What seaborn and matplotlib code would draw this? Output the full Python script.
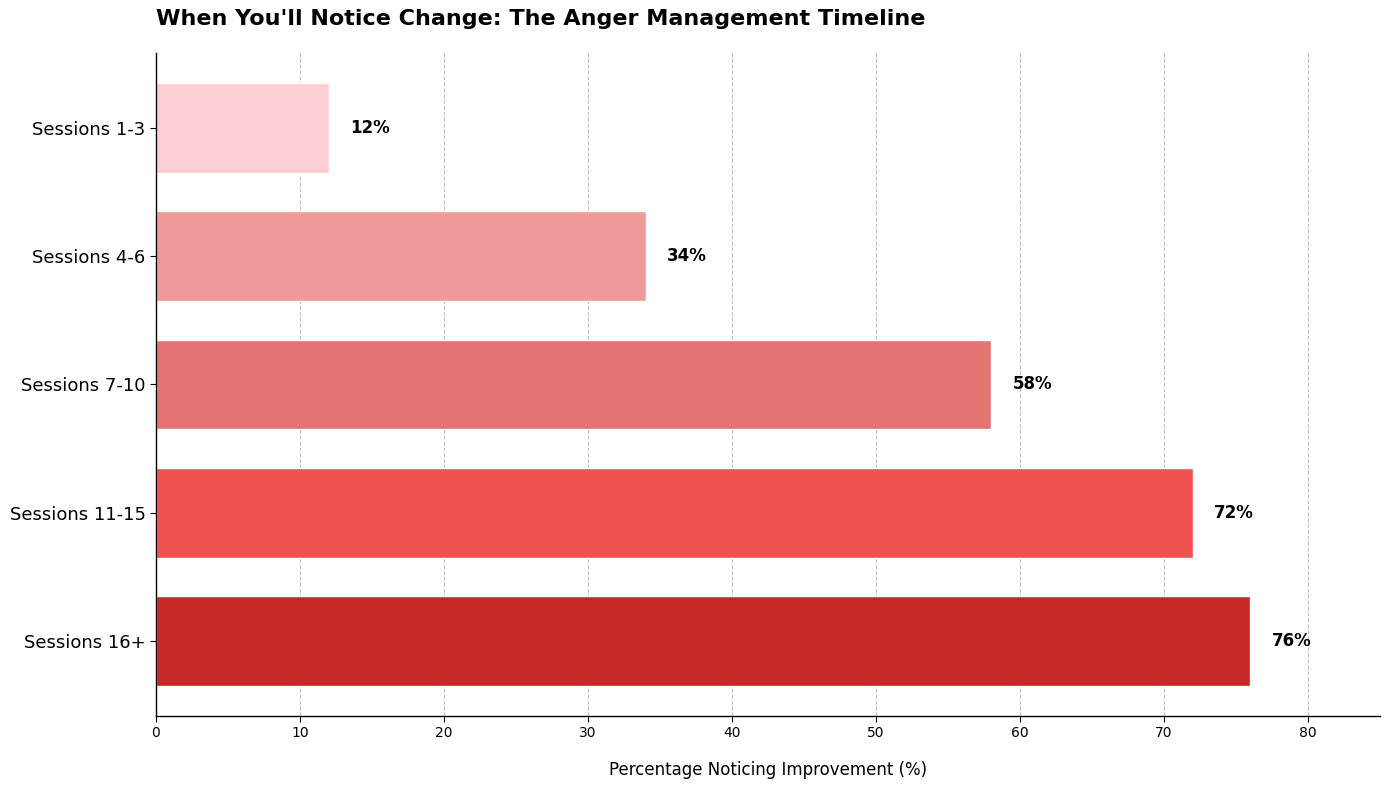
import matplotlib
matplotlib.use("Agg")
import matplotlib.pyplot as plt
import seaborn as sns
import pandas as pd

# Chart data
sessions = ["Sessions 1-3", "Sessions 4-6", "Sessions 7-10", "Sessions 11-15", "Sessions 16+"]
improvement = [12, 34, 58, 72, 76]
bar_colors = ["#FFCDD2", "#EF9A9A", "#E57373", "#EF5350", "#C62828"]

sns.set_style("white")
plt.rcParams.update({
    "font.family": ["DejaVu Sans"],
    "text.color": "black",
    "axes.labelcolor": "black",
    "xtick.color": "black",
    "ytick.color": "black",
})

df = pd.DataFrame({"Session": sessions, "Improvement": improvement})

fig, ax = plt.subplots(figsize=(13.89, 7.89), dpi=100)
fig.subplots_adjust(left=0.1123, right=0.9935, top=0.933, bottom=0.0925)

sns.barplot(
    data=df, x="Improvement", y="Session", hue="Session",
    palette=dict(zip(sessions, bar_colors)), legend=False,
    width=0.7, saturation=1, ax=ax, zorder=2
)

# Value labels to the right of each bar
for i, v in enumerate(improvement):
    ax.text(v + 1.5, i, f"{v}%", va="center", ha="left", fontsize=12,
            fontweight="bold", color="black")

ax.set_xlim(0, 85)
ax.set_ylim(len(sessions) - 1 + 0.585, -0.585)
ax.set_xticks(range(0, 90, 10))
ax.grid(axis="x", linestyle="--", color="#bbbbbb", alpha=0.9, zorder=0)
ax.set_axisbelow(True)
sns.despine(ax=ax, top=True, right=True)
for s in ["left", "bottom"]:
    ax.spines[s].set_color("black")
    ax.spines[s].set_linewidth(1.0)

ax.tick_params(axis="y", labelsize=13, left=True, length=4, color="black")
ax.tick_params(axis="x", labelsize=10, bottom=True, length=4, color="black")
ax.set_ylabel("")
ax.set_xlabel("Percentage Noticing Improvement (%)", fontsize=12, labelpad=15)
ax.set_title("When You'll Notice Change: The Anger Management Timeline",
             loc="left", fontsize=16, fontweight="bold", pad=20, color="black")

plt.savefig("out.png", dpi=100)
plt.close()
